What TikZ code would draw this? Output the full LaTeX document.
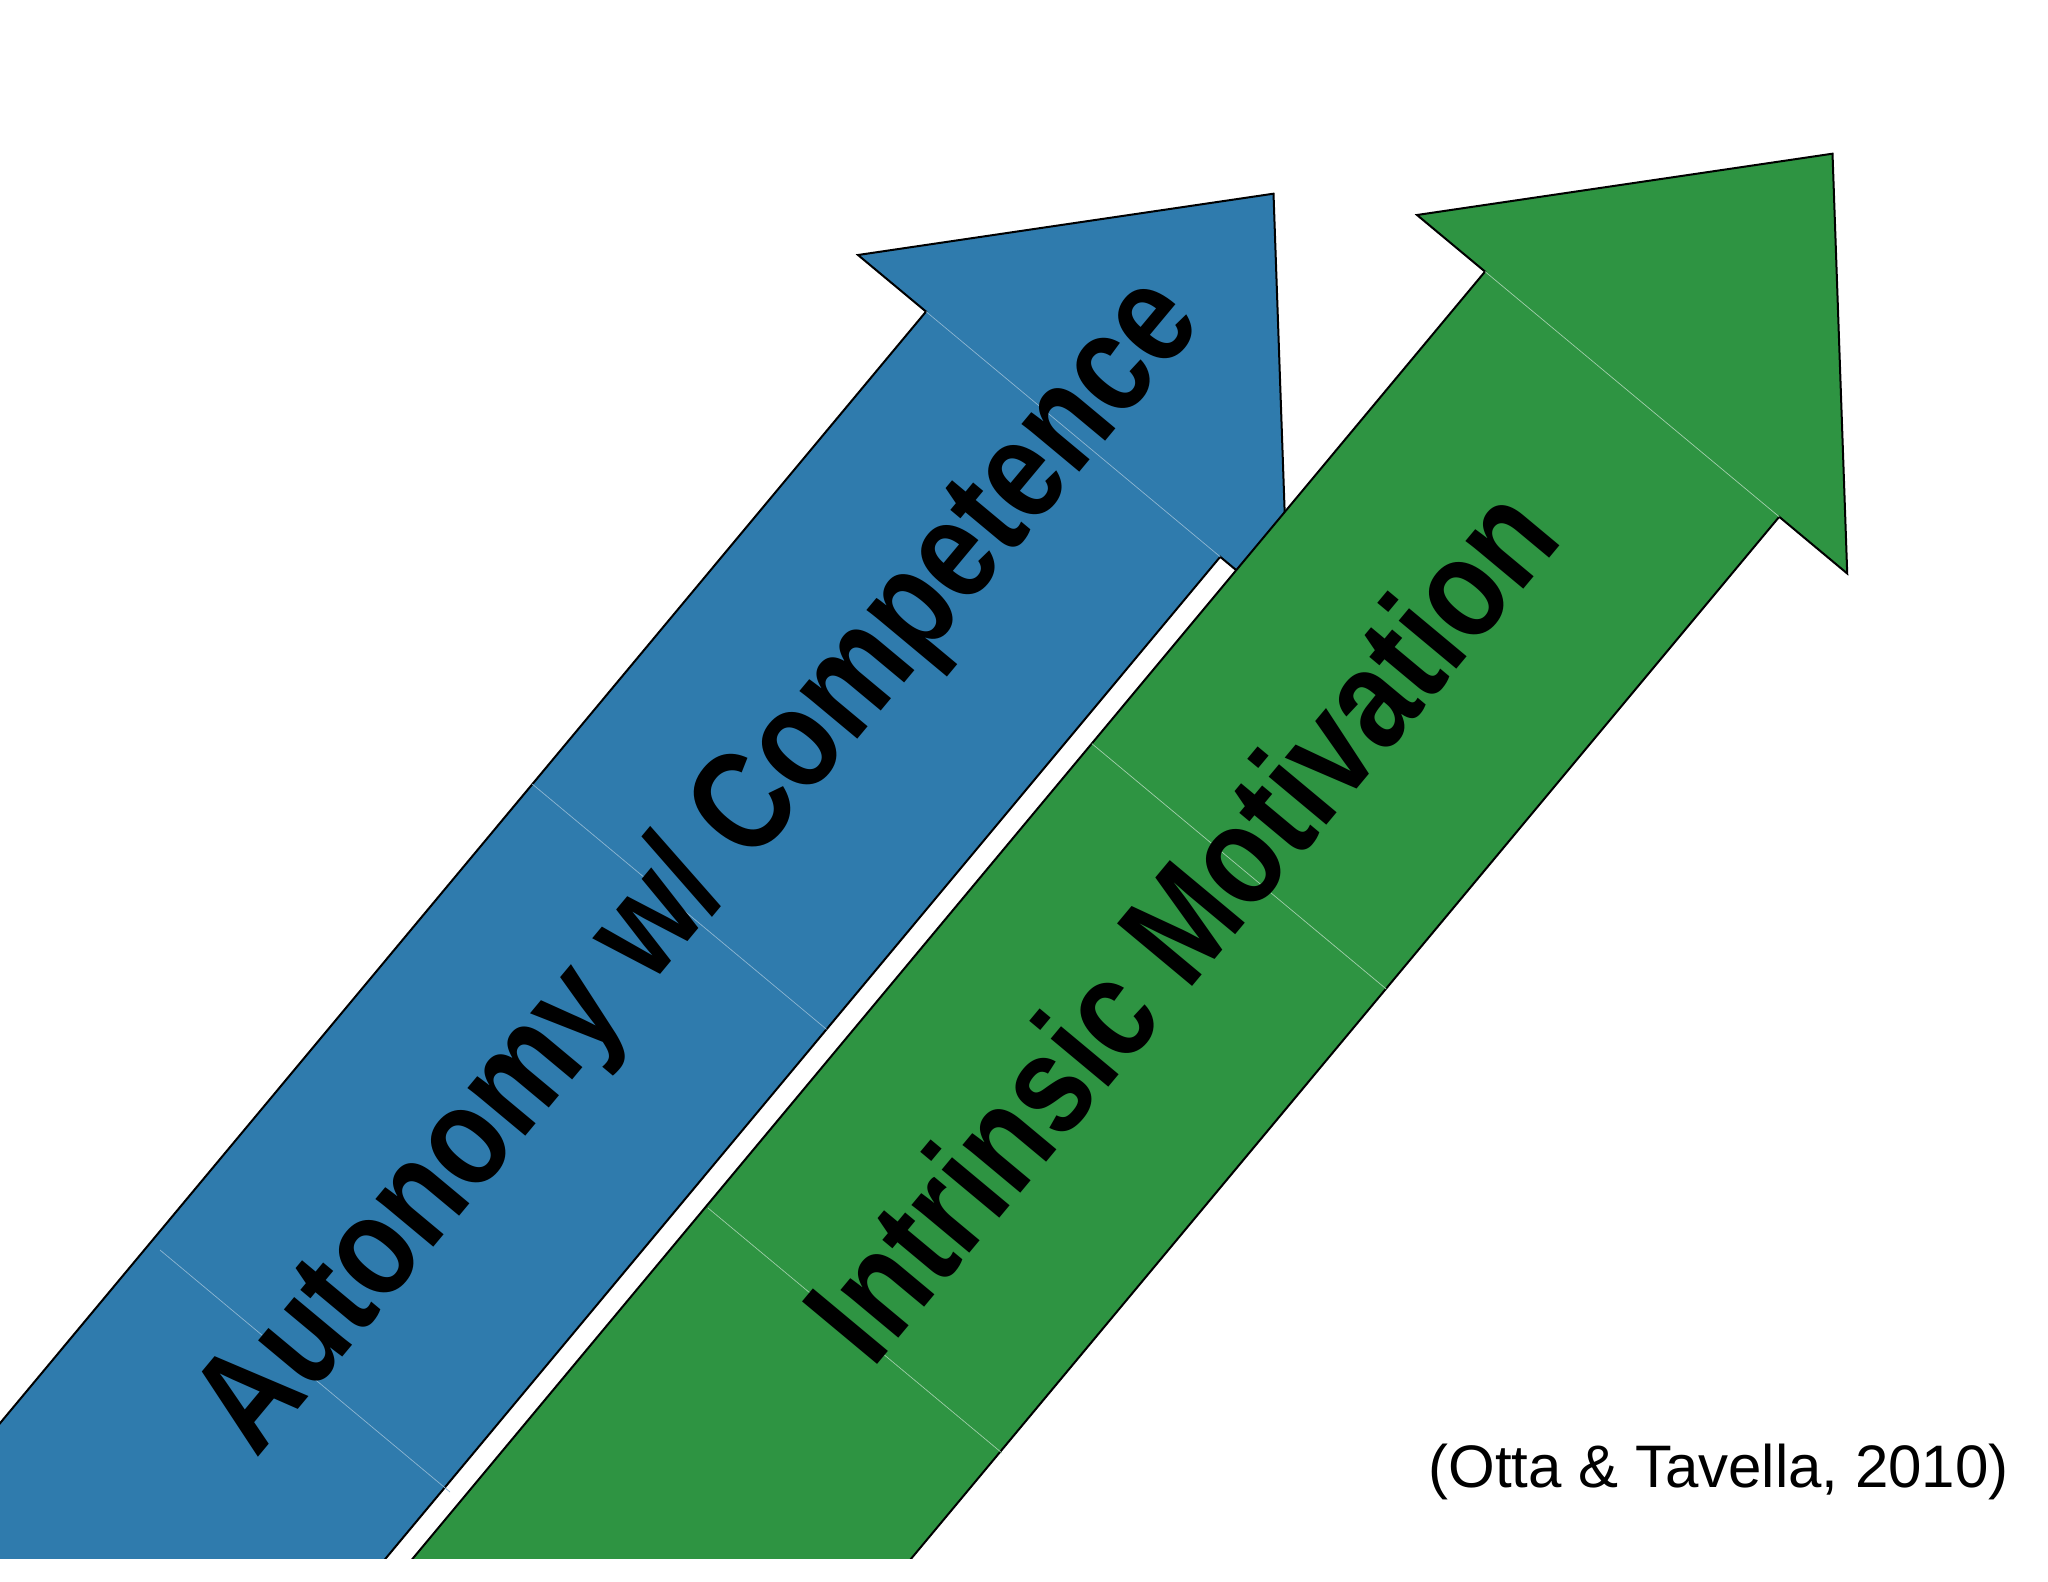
\documentclass[tikz,border=0pt]{standalone}
\usepackage{fontspec}
\usepackage{graphicx}
\setmainfont{Liberation Sans}
\definecolor{arrowblue}{RGB}{47,123,173}
\definecolor{arrowgreen}{RGB}{46,148,66}
\begin{document}
\begin{tikzpicture}[x=0.5pt,y=-0.5pt,
  arrowshape/.style={draw=black, line width=1pt, line join=miter},
  blueseam/.style={draw=arrowblue!55!white, line width=0.35pt},
  greenseam/.style={draw=arrowgreen!45!white, line width=0.35pt},
  bigtext/.style={font=\bfseries\fontsize{71pt}{71pt}\selectfont, inner sep=0pt, rotate=50.2, anchor=base west, text=black},
  citetext/.style={font=\fontsize{30pt}{30pt}\selectfont, inner sep=0pt, anchor=base west, text=black}
]
\useasboundingbox (0,0) rectangle (2048,1582);
\fill[white] (0,0) rectangle (2048,1582);
% blue arrow points
\coordinate (bL)  at (858,255);
\coordinate (bT)  at (1273.5,193.7);
\coordinate (bR)  at (1288.2,613.5);
\coordinate (bNR) at (1220.2,556.8);
\coordinate (bSR) at (132,1862.9);
\coordinate (bSL) at (-162,1617.7);
\coordinate (bNL) at (926.0,311.6);
% green arrow points
\coordinate (gL)  at (1417,215);
\coordinate (gT)  at (1832.5,153.7);
\coordinate (gR)  at (1847.2,573.5);
\coordinate (gNR) at (1779.2,516.8);
\coordinate (gSR) at (691.0,1822.9);
\coordinate (gSL) at (396.8,1577.7);
\coordinate (gNL) at (1485.0,271.6);
% seams
\coordinate (bs1a) at (532.3,784.1);
\coordinate (bs1b) at (826.5,1029.3);
\coordinate (bs2a) at (160,1250);
\coordinate (bs2b) at (450,1492);
\coordinate (gs1a) at (1091.9,743.7);
\coordinate (gs1b) at (1386.1,988.9);
\coordinate (gs2a) at (708,1208);
\coordinate (gs2b) at (1002,1453);
\begin{scope}
  \clip (0,0) rectangle (2048,1558);
  \filldraw[arrowshape, fill=arrowblue] (bL) -- (bT) -- (bR) -- (bNR) -- (bSR) -- (bSL) -- (bNL) -- cycle;
  \draw[blueseam] (bNL) -- (bNR);
  \draw[blueseam] (bs1a) -- (bs1b);
  \draw[blueseam] (bs2a) -- (bs2b);
  \filldraw[arrowshape, fill=arrowgreen] (gL) -- (gT) -- (gR) -- (gNR) -- (gSR) -- (gSL) -- (gNL) -- cycle;
  \draw[greenseam] (gNL) -- (gNR);
  \draw[greenseam] (gs1a) -- (gs1b);
  \draw[greenseam] (gs2a) -- (gs2b);
\end{scope}
\node[bigtext] (bluetext) at (256.7,1460) {\scalebox{0.83}[1]{Autonomy w/ Competence}};
\node[bigtext] (greentext) at (872.5,1370.4) {\scalebox{0.83}[1]{Intrinsic Motivation}};
\node[citetext] (cite) at (1428,1487) {(Otta \& Tavella, 2010)};
\end{tikzpicture}
\end{document}
